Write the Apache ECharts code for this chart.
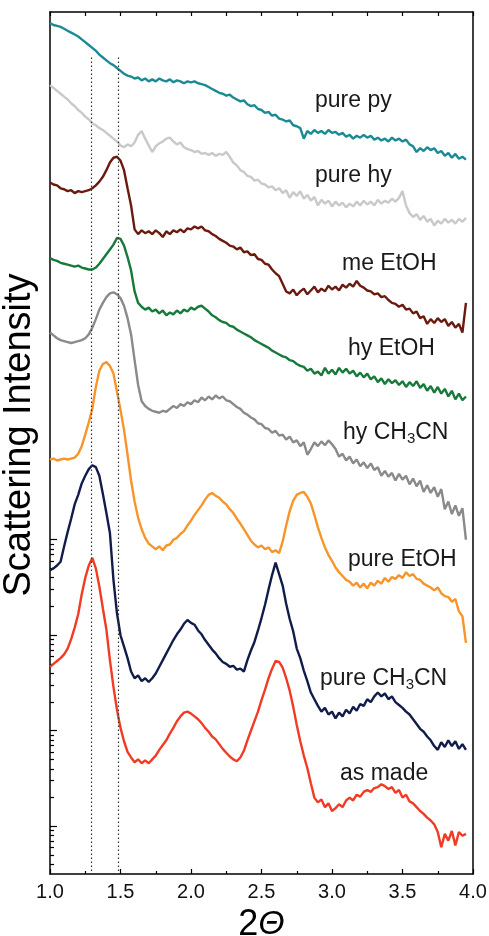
<!DOCTYPE html>
<html><head><meta charset="utf-8">
<script src="https://cdn.jsdelivr.net/npm/echarts@6/dist/echarts.min.js"></script>
<style>html,body{margin:0;padding:0;background:#fff}#c{width:489px;height:936px}</style>
</head><body><div id="c"></div>
<script>
// 2-theta grid (degrees)
const twoTheta = [1,1.025,1.05,1.075,1.1,1.125,1.15,1.175,1.2,1.225,1.25,1.275,1.3,1.325,1.35,1.375,1.4,1.425,1.45,1.475,1.5,1.525,1.55,1.575,1.6,1.625,1.65,1.675,1.7,1.725,1.75,1.775,1.8,1.825,1.85,1.875,1.9,1.925,1.95,1.975,2,2.025,2.05,2.075,2.1,2.125,2.15,2.175,2.2,2.225,2.25,2.275,2.3,2.325,2.35,2.375,2.4,2.425,2.45,2.475,2.5,2.525,2.55,2.575,2.6,2.625,2.65,2.675,2.7,2.725,2.75,2.775,2.8,2.825,2.85,2.875,2.9,2.925,2.95,2.975,3,3.025,3.05,3.075,3.1,3.125,3.15,3.175,3.2,3.225,3.25,3.275,3.3,3.325,3.35,3.375,3.4,3.425,3.45,3.475,3.5,3.525,3.55,3.575,3.6,3.625,3.65,3.675,3.7,3.725,3.75,3.775,3.8,3.825,3.85,3.875,3.9,3.925,3.95];

// log10 of scattering intensity (arbitrary units, curves offset)
const purePy = [8.41,8.39,8.38,8.37,8.35,8.33,8.31,8.29,8.27,8.24,
8.21,8.18,8.15,8.12,8.08,8.05,8.02,7.99,7.97,7.94,
7.91,7.88,7.86,7.85,7.83,7.84,7.81,7.83,7.80,7.82,
7.80,7.83,7.81,7.80,7.82,7.79,7.81,7.80,7.78,7.80,
7.79,7.80,7.78,7.77,7.76,7.74,7.72,7.70,7.68,7.67,
7.65,7.66,7.63,7.61,7.59,7.60,7.56,7.54,7.55,7.51,
7.50,7.47,7.48,7.44,7.45,7.41,7.40,7.38,7.39,7.34,
7.33,7.31,7.20,7.28,7.25,7.29,7.26,7.28,7.25,7.29,
7.26,7.27,7.24,7.26,7.22,7.24,7.20,7.23,7.21,7.24,
7.21,7.23,7.19,7.21,7.18,7.20,7.17,7.21,7.18,7.20,
7.17,7.19,7.14,7.12,7.06,7.10,7.07,7.11,7.08,7.10,
7.05,7.07,7.02,7.05,7.00,7.04,6.99,7.01,6.98];

const pureHy = [7.76,7.73,7.70,7.67,7.64,7.61,7.57,7.54,7.50,7.47,
7.43,7.40,7.36,7.34,7.31,7.29,7.26,7.23,7.20,7.17,
7.13,7.11,7.14,7.12,7.16,7.24,7.28,7.20,7.13,7.06,
7.12,7.15,7.17,7.20,7.21,7.17,7.14,7.16,7.11,7.09,
7.08,7.06,7.07,7.04,7.05,7.03,7.05,7.02,7.04,7.03,
7.06,7.01,6.95,6.92,6.87,6.85,6.81,6.80,6.76,6.77,
6.73,6.72,6.69,6.70,6.66,6.68,6.63,6.66,6.58,6.64,
6.60,6.65,6.57,6.61,6.55,6.59,6.50,6.56,6.52,6.55,
6.49,6.54,6.50,6.53,6.48,6.52,6.49,6.54,6.50,6.55,
6.51,6.54,6.50,6.56,6.52,6.55,6.53,6.57,6.54,6.58,
6.65,6.50,6.42,6.38,6.41,6.35,6.39,6.33,6.36,6.29,
6.34,6.31,6.36,6.32,6.35,6.31,6.36,6.33,6.37];

const meEtOH = [6.74,6.72,6.71,6.68,6.67,6.65,6.66,6.63,6.65,6.64,
6.65,6.66,6.68,6.71,6.75,6.80,6.87,6.95,7.00,7.01,
6.97,6.87,6.68,6.50,6.25,6.20,6.24,6.21,6.23,6.20,
6.24,6.21,6.17,6.23,6.20,6.24,6.22,6.25,6.22,6.26,
6.25,6.28,6.26,6.28,6.24,6.23,6.20,6.18,6.15,6.13,
6.11,6.08,6.07,6.04,6.06,6.01,6.02,5.98,5.99,5.94,
5.93,5.89,5.88,5.83,5.79,5.76,5.68,5.60,5.58,5.62,
5.56,5.60,5.63,5.57,5.61,5.65,5.59,5.63,5.60,5.66,
5.62,5.65,5.61,5.67,5.64,5.68,5.65,5.71,5.66,5.64,
5.61,5.60,5.57,5.58,5.54,5.55,5.51,5.48,5.47,5.44,
5.46,5.41,5.42,5.37,5.39,5.32,5.34,5.26,5.31,5.27,
5.32,5.28,5.31,5.24,5.28,5.22,5.26,5.17,5.48];

const hyEtOH = [5.95,5.93,5.92,5.90,5.89,5.88,5.87,5.86,5.87,5.85,
5.84,5.83,5.83,5.85,5.89,5.94,5.99,6.04,6.09,6.16,
6.15,6.08,5.96,5.82,5.60,5.48,5.44,5.41,5.43,5.39,
5.41,5.37,5.40,5.35,5.38,5.36,5.40,5.37,5.41,5.39,
5.43,5.41,5.44,5.45,5.42,5.39,5.35,5.33,5.30,5.28,
5.27,5.24,5.23,5.20,5.18,5.16,5.14,5.12,5.09,5.07,
5.05,5.03,5.01,4.98,4.96,4.94,4.92,4.91,4.88,4.87,
4.84,4.82,4.81,4.77,4.79,4.74,4.76,4.72,4.80,4.74,
4.78,4.73,4.80,4.75,4.79,4.74,4.77,4.71,4.75,4.70,
4.74,4.68,4.71,4.65,4.69,4.63,4.68,4.64,4.67,4.62,
4.66,4.60,4.65,4.61,4.66,4.59,4.63,4.56,4.61,4.54,
4.60,4.53,4.58,4.50,4.56,4.47,4.53,4.46,4.50];

const hyCH3CN = [5.17,5.14,5.11,5.09,5.08,5.07,5.06,5.07,5.08,5.09,
5.11,5.15,5.22,5.31,5.41,5.48,5.54,5.58,5.59,5.57,
5.53,5.45,5.32,5.15,4.88,4.62,4.45,4.40,4.37,4.35,
4.34,4.33,4.35,4.34,4.37,4.40,4.38,4.42,4.40,4.44,
4.42,4.46,4.44,4.49,4.46,4.50,4.47,4.51,4.48,4.50,
4.46,4.45,4.42,4.39,4.37,4.33,4.31,4.28,4.26,4.22,
4.21,4.17,4.16,4.12,4.14,4.09,4.10,4.05,4.08,4.02,
4.04,3.98,4.02,3.89,3.95,4.02,3.98,4.03,3.99,4.04,
4.00,3.95,3.87,3.90,3.83,3.87,3.80,3.84,3.77,3.81,
3.75,3.80,3.73,3.76,3.67,3.72,3.66,3.70,3.62,3.69,
3.63,3.67,3.58,3.64,3.56,3.62,3.50,3.57,3.49,3.55,
3.45,3.53,3.32,3.40,3.27,3.36,3.25,3.33,3.00];

const pureEtOH = [3.84,3.85,3.83,3.84,3.85,3.84,3.85,3.86,3.90,3.98,
4.10,4.23,4.37,4.60,4.77,4.84,4.86,4.82,4.74,4.55,
4.36,4.15,3.89,3.62,3.40,3.23,3.11,3.02,2.96,2.93,
2.90,2.93,2.89,2.94,2.95,3.00,3.02,3.06,3.09,3.15,
3.20,3.26,3.31,3.36,3.42,3.47,3.49,3.46,3.44,3.40,
3.37,3.32,3.28,3.22,3.17,3.11,3.05,2.99,2.95,2.92,
2.94,2.90,2.92,2.87,2.89,2.86,2.98,3.15,3.30,3.41,
3.47,3.49,3.50,3.45,3.38,3.26,3.13,3.02,2.92,2.84,
2.78,2.71,2.66,2.62,2.58,2.56,2.52,2.55,2.50,2.54,
2.49,2.55,2.52,2.57,2.54,2.60,2.56,2.61,2.59,2.63,
2.60,2.66,2.62,2.64,2.59,2.58,2.54,2.52,2.50,2.47,
2.50,2.44,2.41,2.40,2.35,2.38,2.25,2.20,1.92];

const pureCH3CN = [2.68,2.70,2.73,2.77,2.93,3.08,3.22,3.37,3.47,3.59,
3.67,3.74,3.78,3.76,3.67,3.48,3.28,3.07,2.58,2.23,
2.00,1.88,1.76,1.62,1.55,1.58,1.52,1.55,1.51,1.55,
1.60,1.67,1.74,1.81,1.88,1.95,2.01,2.06,2.12,2.16,
2.13,2.11,2.05,2.01,1.95,1.90,1.85,1.81,1.76,1.72,
1.70,1.67,1.68,1.64,1.65,1.62,1.74,1.84,1.93,2.05,
2.18,2.32,2.48,2.63,2.76,2.64,2.52,2.33,2.17,2.04,
1.86,1.76,1.63,1.52,1.40,1.33,1.26,1.20,1.24,1.17,
1.20,1.13,1.19,1.15,1.22,1.18,1.25,1.21,1.28,1.26,
1.33,1.30,1.36,1.40,1.36,1.39,1.33,1.36,1.30,1.27,
1.24,1.20,1.17,1.12,1.07,1.02,0.99,0.94,0.90,0.84,
0.80,0.88,0.83,0.90,0.84,0.89,0.81,0.86,0.80];

const asMade = [1.67,1.70,1.73,1.76,1.80,1.86,1.96,2.08,2.22,2.43,
2.60,2.73,2.81,2.70,2.51,2.28,2.06,1.74,1.46,1.22,
1.03,0.89,0.78,0.72,0.67,0.70,0.66,0.69,0.66,0.70,
0.74,0.80,0.85,0.90,0.97,1.03,1.10,1.15,1.19,1.20,
1.18,1.15,1.12,1.08,1.03,0.99,0.94,0.91,0.86,0.81,
0.77,0.73,0.70,0.68,0.72,0.79,0.90,1.00,1.10,1.20,
1.32,1.43,1.55,1.65,1.73,1.72,1.66,1.55,1.42,1.25,
1.06,0.89,0.74,0.61,0.45,0.30,0.25,0.28,0.20,0.24,
0.16,0.19,0.23,0.20,0.27,0.30,0.27,0.33,0.31,0.36,
0.38,0.36,0.40,0.41,0.44,0.42,0.39,0.41,0.35,0.38,
0.30,0.33,0.26,0.24,0.20,0.16,0.13,0.09,0.06,0.02,
-0.06,-0.22,-0.08,-0.15,-0.05,-0.20,-0.06,-0.10,-0.08];

const seriesNames = ['pure py','pure hy','me EtOH','hy EtOH','hy CH3CN','pure EtOH','pure CH3CN','as made'];
const seriesValues = [purePy, pureHy, meEtOH, hyEtOH, hyCH3CN, pureEtOH, pureCH3CN, asMade];
const seriesColors = ['#1b8a95','#c9c9c9','#6b1a10','#17793a','#8a8a8a','#f7952a','#111c4a','#f23b24'];

// axes
const xMin = 1.0, xMax = 4.0, xStep = 0.5;
const yMin = -0.5, yMax = 8.526;
const yMajorTicks = [0, 1, 2, 3];
const yMinorMultipliers = [2, 3, 4, 5, 6, 7, 8, 9];
const yMinorDecades = [-1, 0, 1, 2];
const refLines = [1.295, 1.485];
const refLineTop = 8.05;

const yMinorTicks = [];
yMinorDecades.forEach(n => yMinorMultipliers.forEach(k => {
  const v = n + Math.log10(k);
  if (v > yMin && v < 3) yMinorTicks.push(v);
}));

const FONT = '"Liberation Sans", Arial, Helvetica, sans-serif';

const labels = [
  {x: 315, y: 101, text: 'pure py'},
  {x: 315, y: 176, text: 'pure hy'},
  {x: 342, y: 264, text: 'me EtOH'},
  {x: 348, y: 349, text: 'hy EtOH'},
  {x: 343, y: 433, text: 'hy CH{s|3}CN'},
  {x: 348, y: 560, text: 'pure EtOH'},
  {x: 320, y: 679, text: 'pure CH{s|3}CN'},
  {x: 340, y: 774, text: 'as made'}
];

const chart = echarts.init(document.getElementById('c'), null, {renderer: 'canvas'});

const series = seriesValues.map((vals, si) => ({
  name: seriesNames[si],
  type: 'line',
  showSymbol: false,
  symbol: 'none',
  smooth: false,
  animation: false,
  lineStyle: {color: seriesColors[si], width: 2.4},
  itemStyle: {color: seriesColors[si]},
  data: twoTheta.map((x, i) => [x, vals[i]]),
  z: 3
}));

series.push({
  name: 'refs', type: 'line', data: [], silent: true, animation: false,
  markLine: {
    silent: true, symbol: 'none', animation: false,
    label: {show: false},
    lineStyle: {color: '#333', width: 1.2, type: [1.5, 2.5]},
    data: refLines.map(x => [{coord: [x, refLineTop]}, {coord: [x, yMin]}])
  },
  z: 2
});

const axisLineStyle = {color: '#000', width: 1.5};

chart.setOption({
  animation: false,
  backgroundColor: '#fff',
  grid: {left: 50, right: 16, top: 12, bottom: 62, containLabel: false, outerBoundsMode: 'none'},
  xAxis: [
    {
      type: 'value', position: 'bottom', min: xMin, max: xMax, interval: xStep,
      axisLine: {show: true, onZero: false, lineStyle: axisLineStyle},
      axisTick: {show: true, inside: true, length: 5, lineStyle: {color: '#000', width: 1.2}},
      minorTick: {show: true, splitNumber: 2, length: 3, lineStyle: {color: '#000', width: 1.2}},
      splitLine: {show: false},
      axisLabel: {formatter: v => v.toFixed(1), fontSize: 20, color: '#111', margin: 8, fontFamily: FONT},
      name: '{n|2}{t|Θ}',
      nameLocation: 'middle',
      nameGap: 28,
      nameTextStyle: {
        rich: {
          n: {fontSize: 36, fontFamily: FONT, color: '#000'},
          t: {fontSize: 34, fontFamily: FONT, fontStyle: 'italic', color: '#000'}
        }
      }
    },
    {
      type: 'value', position: 'top', min: xMin, max: xMax, interval: 0.25,
      axisLine: {show: true, onZero: false, lineStyle: axisLineStyle},
      axisTick: {show: true, inside: true, length: 4, lineStyle: {color: '#000', width: 1.2}},
      axisLabel: {show: false},
      splitLine: {show: false}
    }
  ],
  yAxis: [
    {
      type: 'value', position: 'left', min: yMin, max: yMax,
      axisLine: {show: true, onZero: false, lineStyle: axisLineStyle},
      axisTick: {show: true, inside: true, length: 7, customValues: yMajorTicks, lineStyle: {color: '#000', width: 1.2}},
      axisLabel: {show: false},
      splitLine: {show: false},
      name: 'Scattering Intensity',
      nameLocation: 'middle',
      nameRotate: 90,
      nameGap: 11,
      nameTextStyle: {fontSize: 38, fontFamily: FONT, color: '#000', padding: [0, 0, 0, 16]}
    },
    {
      type: 'value', position: 'left', min: yMin, max: yMax,
      axisLine: {show: false, onZero: false},
      axisTick: {show: true, inside: true, length: 4, customValues: yMinorTicks, lineStyle: {color: '#000', width: 1.2}},
      axisLabel: {show: false},
      splitLine: {show: false}
    },
    {
      type: 'value', position: 'right', min: yMin, max: yMax,
      axisLine: {show: true, onZero: false, lineStyle: axisLineStyle},
      axisTick: {show: false},
      axisLabel: {show: false},
      splitLine: {show: false}
    }
  ],
  series: series,
  graphic: labels.map(l => ({
    type: 'text', x: l.x, y: l.y, silent: true,
    style: {
      text: l.text, fill: '#1a1a1a', fontSize: 23, fontFamily: FONT,
      verticalAlign: 'middle', align: 'left',
      rich: {s: {fontSize: 15, fontFamily: FONT, fill: '#1a1a1a', padding: [12, 0, 0, 0]}}
    }
  }))
});
</script>
</body></html>
